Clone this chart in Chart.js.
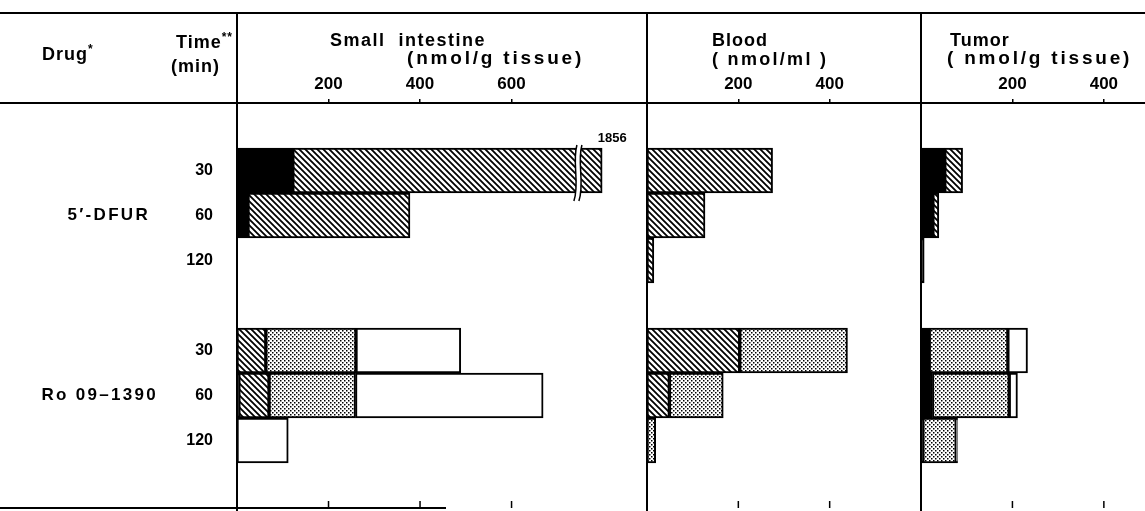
<!DOCTYPE html>
<html>
<head>
<meta charset="utf-8">
<script src="https://cdn.jsdelivr.net/npm/chart.js@4.4.0/dist/chart.umd.min.js"></script>
<style>
  html, body { margin: 0; padding: 0; background: #fff; }
  #fig { position: relative; width: 1145px; height: 511px; overflow: hidden; background: #fff;
         font-family: "Liberation Sans", Arial, sans-serif; font-weight: bold; color: #000; }
  canvas { position: absolute; top: 0; }
  .rule { position: absolute; background: #000; }
  .txt { position: absolute; font-size: 18px; line-height: 18px; white-space: pre; letter-spacing: 1px; }
  .wide { font-size: 19px; letter-spacing: 2.8px; }
  sup { font-size: 12px; vertical-align: 7px; line-height: 0; }
</style>
</head>
<body>
<div id="fig">
  <canvas id="siChart" width="647" height="511" style="left:0"></canvas>
  <canvas id="bloodChart" width="274" height="511" style="left:647px"></canvas>
  <canvas id="tumorChart" width="224" height="511" style="left:921px"></canvas>

  <div class="rule" style="left:0;top:12px;width:1145px;height:2px"></div>
  <div class="rule" style="left:0;top:102px;width:1145px;height:2px"></div>
  <div class="rule" style="left:0;top:507px;width:446px;height:2px"></div>
  <div class="rule" style="left:236px;top:12px;width:2px;height:499px"></div>
  <div class="rule" style="left:646px;top:12px;width:2px;height:499px"></div>
  <div class="rule" style="left:920px;top:12px;width:2px;height:499px"></div>

  <div class="txt" style="left:42px;top:45px">Drug<sup>*</sup></div>
  <div class="txt" style="left:176px;top:33px">Time<sup>**</sup></div>
  <div class="txt" style="left:171px;top:57px">(min)</div>
  <div class="txt" style="left:330px;top:31px;letter-spacing:1.5px">Small  intestine</div>
  <div class="txt wide" style="left:407px;top:49px">(nmol/g tissue)</div>
  <div class="txt" style="left:712px;top:31px">Blood</div>
  <div class="txt" style="left:712px;top:50px;letter-spacing:2.3px">( nmol/ml )</div>
  <div class="txt" style="left:950px;top:31px">Tumor</div>
  <div class="txt wide" style="left:947px;top:49px">( nmol/g tissue)</div>
</div>

<script>
// rows: blank, 5'-DFUR 30/60/120, blank, Ro 09-1390 30/60/120, blank
const rowLabels = ['', '30', '60', '120', '', '30', '60', '120', ''];
const drugNames = ['5′-DFUR', 'Ro 09–1390'];
const drugRows = [2, 6];

// small intestine (nmol/g tissue)
const siBlack   = [null, 122, 24, null, null, null, 4, null, null];
const siHatched = [null, 676, 354, null, null, 63, 66, null, null];
const siDotted  = [null, null, null, null, null, 197, 189, null, null];
const siWhite   = [null, null, null, null, null, 229, 410, 112, null];
const siTicks = [200, 400, 600];
const siBreakAt = 745;
const siBreakLabel = '1856';

// blood (nmol/ml)
const bloodBlack   = [null, null, null, null, null, null, null, null, null];
const bloodHatched = [null, 275, 127, 15, null, 203, 49, null, null];
const bloodDotted  = [null, null, null, null, null, 236, 118, 19, null];
const bloodWhite   = [null, null, null, null, null, null, null, null, null];
const bloodTicks = [200, 400];

// tumor (nmol/g tissue)
const tumorBlack   = [null, 52, 26, 7, null, 18, 25, 4, null];
const tumorHatched = [null, 39, 13, null, null, null, null, null, null];
const tumorDotted  = [null, null, null, null, null, 172, 168, 73, null];
const tumorWhite   = [null, null, null, null, null, 43, 18, 3, null];
const tumorTicks = [200, 400];

const FONT = 'Liberation Sans';

function makeHatch() {
  const c = document.createElement('canvas');
  c.width = 6; c.height = 6;
  const g = c.getContext('2d');
  g.fillStyle = '#fff'; g.fillRect(0, 0, 6, 6);
  g.strokeStyle = '#000'; g.lineWidth = 1.8;
  g.beginPath();
  g.moveTo(-1, -1); g.lineTo(7, 7);
  g.moveTo(-1, 5); g.lineTo(1, 7);
  g.moveTo(5, -1); g.lineTo(7, 1);
  g.stroke();
  return g.createPattern(c, 'repeat');
}

function makeDots() {
  const c = document.createElement('canvas');
  c.width = 4; c.height = 4;
  const g = c.getContext('2d');
  g.fillStyle = '#fff'; g.fillRect(0, 0, 4, 4);
  g.fillStyle = '#000';
  g.fillRect(0, 0, 1.5, 1.5);
  g.fillRect(2, 2, 1.5, 1.5);
  return g.createPattern(c, 'repeat');
}

const hatchFill = makeHatch();
const dotFill = makeDots();

const bottomTicks = {
  id: 'bottomTicks',
  afterDraw(chart) {
    const {ctx, chartArea, scales: {x}} = chart;
    ctx.save();
    ctx.strokeStyle = '#000';
    ctx.lineWidth = 1.5;
    x.ticks.forEach(t => {
      const px = x.getPixelForValue(t.value);
      ctx.beginPath();
      ctx.moveTo(px, chartArea.bottom);
      ctx.lineTo(px, chartArea.bottom - 7);
      ctx.stroke();
    });
    ctx.restore();
  }
};

// axis break + true value on the 5'-DFUR 30 min bar
const breakMark = {
  id: 'breakMark',
  afterDatasetsDraw(chart) {
    const {ctx} = chart;
    const bar = chart.getDatasetMeta(1).data[1];
    const bx = chart.scales.x.getPixelForValue(siBreakAt);
    const top = bar.y - bar.height / 2 - 3;
    const bot = bar.y + bar.height / 2 + 8;
    ctx.save();
    ctx.fillStyle = '#fff';
    ctx.beginPath();
    ctx.moveTo(bx - 1, top);
    ctx.bezierCurveTo(bx - 6, top + 18, bx + 2, bot - 18, bx - 4, bot);
    ctx.lineTo(bx + 1, bot);
    ctx.bezierCurveTo(bx + 7, bot - 18, bx - 1, top + 18, bx + 4, top);
    ctx.closePath();
    ctx.fill();
    ctx.strokeStyle = '#000';
    ctx.lineWidth = 1.5;
    ctx.beginPath();
    ctx.moveTo(bx - 1, top);
    ctx.bezierCurveTo(bx - 6, top + 18, bx + 2, bot - 18, bx - 4, bot);
    ctx.moveTo(bx + 4, top);
    ctx.bezierCurveTo(bx - 1, top + 18, bx + 7, bot - 18, bx + 1, bot);
    ctx.stroke();
    ctx.fillStyle = '#000';
    ctx.font = 'bold 13px ' + FONT;
    ctx.textAlign = 'center';
    ctx.textBaseline = 'bottom';
    ctx.fillText(siBreakLabel, bar.x + 10, bar.y - bar.height / 2 - 3);
    ctx.restore();
  }
};

const drugLabels = {
  id: 'drugLabels',
  afterDraw(chart) {
    const {ctx, scales: {y}} = chart;
    const rightEdge = [150, 158];
    ctx.save();
    ctx.fillStyle = '#000';
    ctx.font = 'bold 17px ' + FONT;
    ctx.letterSpacing = '2.3px';
    ctx.textAlign = 'right';
    ctx.textBaseline = 'middle';
    drugNames.forEach((name, i) => {
      ctx.fillText(name, rightEdge[i], y.getPixelForValue(drugRows[i]));
    });
    ctx.restore();
  }
};

function panel(id, max, ticks, black, hatched, dotted, white, first) {
  const sets = [
    {data: black, backgroundColor: '#000'},
    {data: hatched, backgroundColor: hatchFill},
    {data: dotted, backgroundColor: dotFill},
    {data: white, backgroundColor: '#fff'}
  ].map(s => Object.assign(s, {
    borderColor: '#000', borderWidth: 2, borderSkipped: false,
    barPercentage: 1, categoryPercentage: 1
  }));
  return new Chart(document.getElementById(id), {
    type: 'bar',
    data: {labels: rowLabels, datasets: sets},
    options: {
      indexAxis: 'y',
      responsive: false,
      animation: false,
      events: [],
      layout: {padding: {top: 75, bottom: 3, left: 0, right: 0}},
      plugins: {legend: {display: false}, tooltip: {enabled: false}},
      scales: {
        x: {
          position: 'top', stacked: true, min: 0, max: max,
          afterBuildTicks: s => { s.ticks = ticks.map(v => ({value: v})); },
          afterFit: s => { s.height = 28; s.paddingLeft = 0; s.paddingRight = 0; },
          border: {display: false},
          grid: {drawOnChartArea: false, tickLength: 4, color: '#000', lineWidth: 1.5},
          ticks: {color: '#000', padding: 4, maxRotation: 0,
                  font: {family: FONT, size: 17, weight: 'bold'}}
        },
        y: {
          stacked: true, display: first,
          afterFit: s => { s.width = first ? 237 : 0; s.paddingTop = 0; s.paddingBottom = 0; },
          border: {display: false},
          grid: {display: false, drawTicks: false},
          ticks: {color: '#000', padding: 24, font: {family: FONT, size: 16, weight: 'bold'}}
        }
      }
    },
    plugins: first ? [bottomTicks, breakMark, drugLabels] : [bottomTicks]
  });
}

panel('siChart', 896, siTicks, siBlack, siHatched, siDotted, siWhite, true);
panel('bloodChart', 600, bloodTicks, bloodBlack, bloodHatched, bloodDotted, bloodWhite, false);
panel('tumorChart', 490, tumorTicks, tumorBlack, tumorHatched, tumorDotted, tumorWhite, false);
</script>
</body>
</html>
